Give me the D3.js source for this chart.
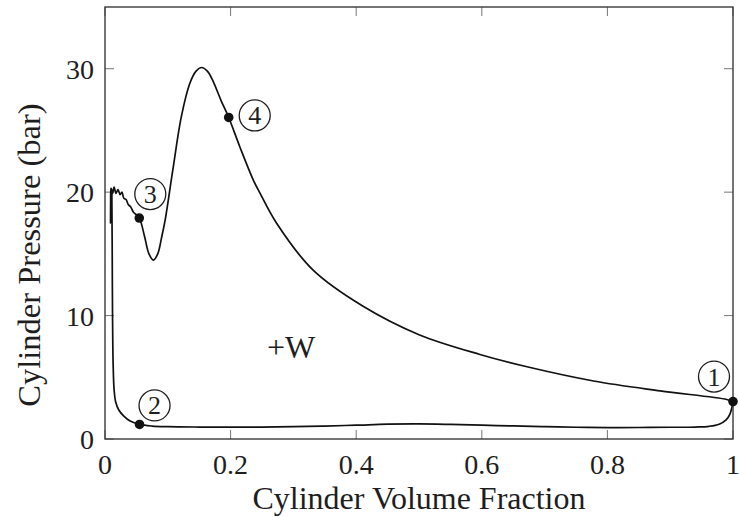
<!DOCTYPE html>
<html>
<head>
<meta charset="utf-8">
<script src="https://cdn.jsdelivr.net/npm/d3@7"></script>
<style>
  html, body { margin: 0; padding: 0; background: #fff; }
  svg { display: block; }
</style>
</head>
<body>
<svg id="chart" width="739" height="517"></svg>
<script>
// Cycle trace: volume fraction and cylinder pressure (bar), in drawing order
const volume = [
  1.0, 0.998, 0.995, 0.989, 0.978, 0.962, 0.94, 0.9, 0.85, 0.8, 0.75, 0.7, 0.65, 0.6,
  0.55, 0.5, 0.45, 0.4, 0.35, 0.3, 0.25, 0.2, 0.15, 0.1, 0.075, 0.055,
  0.04, 0.03, 0.022, 0.017, 0.0145, 0.013, 0.012, 0.0115, 0.011, 0.0105,
  0.0095, 0.009, 0.0088, 0.0092, 0.0098, 0.012, 0.0145, 0.0175, 0.0207, 0.024,
  0.027, 0.030, 0.0335, 0.037, 0.041, 0.045, 0.0546,
  0.063, 0.07, 0.077, 0.084, 0.09, 0.096, 0.108, 0.1215, 0.135, 0.145, 0.154,
  0.163, 0.172, 0.185, 0.197,
  0.2145, 0.236, 0.247, 0.273, 0.331, 0.411, 0.5, 0.597, 0.672, 0.778,
  0.884, 0.99, 1.0
];
const pressure = [
  3.03, 2.5, 2.0, 1.55, 1.2, 1.03, 0.97, 0.95, 0.93, 0.92, 0.95, 1.0, 1.06, 1.12,
  1.18, 1.22, 1.2, 1.12, 1.05, 1.0, 0.97, 0.96, 0.97, 1.0, 1.05, 1.18,
  1.45, 1.85, 2.35, 3.0, 4.0, 6.0, 10, 15, 19, 20.2,
  20.3, 19.2, 17.5, 19.5, 20.3, 19.9, 20.4, 19.9, 20.2, 19.8,
  20.0, 19.5, 19.4, 19.0, 18.8, 18.4, 17.9,
  16.4, 15.0, 14.5, 15.0, 16.3, 17.8, 21.8, 26.1, 28.8, 29.8, 30.1,
  29.8, 29.0, 27.4, 26.05,
  23.7, 21.0, 19.9, 17.5, 13.7, 10.75, 8.45, 6.85, 5.85, 4.7,
  3.9, 3.2, 3.03
];

// State points of the cycle
const stateLabels = ["1", "2", "3", "4"];
const stateVolume = [1.0, 0.055, 0.0546, 0.197];
const statePressure = [3.03, 1.18, 17.9, 26.05];

// Axis ticks
const xTicks = [0, 0.2, 0.4, 0.6, 0.8, 1];
const xTickLabels = ["0", "0.2", "0.4", "0.6", "0.8", "1"];
const yTicks = [0, 10, 20, 30];
const yTickLabels = ["0", "10", "20", "30"];

const xTitle = "Cylinder Volume Fraction";
const yTitle = "Cylinder Pressure (bar)";
const workLabel = "+W";

const serif = "'Liberation Serif', 'Times New Roman', Tinos, 'DejaVu Serif', 'Noto Serif', serif";

const svg = d3.select("#chart")
  .attr("font-family", serif)
  .style("font-family", serif);
const plot = { left: 105, right: 733, top: 7, bottom: 439 };

const x = d3.scaleLinear().domain([0, 1]).range([plot.left, plot.right]);
const y = d3.scaleLinear().domain([0, 35]).range([plot.bottom, plot.top]);

// Inward tick marks on all four sides
const tickLen = 9;
const ticks = svg.append("g").attr("stroke", "#666").attr("stroke-width", 0.9);
xTicks.forEach(v => {
  ticks.append("line").attr("x1", x(v)).attr("x2", x(v))
    .attr("y1", plot.bottom).attr("y2", plot.bottom - tickLen);
  ticks.append("line").attr("x1", x(v)).attr("x2", x(v))
    .attr("y1", plot.top).attr("y2", plot.top + tickLen);
});
yTicks.forEach(v => {
  ticks.append("line").attr("x1", plot.left).attr("x2", plot.left + tickLen)
    .attr("y1", y(v)).attr("y2", y(v));
  ticks.append("line").attr("x1", plot.right).attr("x2", plot.right - tickLen)
    .attr("y1", y(v)).attr("y2", y(v));
});

const ink = "#1e1e1e";

// Tick labels
svg.append("g").selectAll("text").data(xTicks).join("text")
  .attr("x", d => x(d)).attr("y", 474)
  .attr("text-anchor", "middle")
  .attr("font-size", 28).attr("fill", ink)
  .text((d, i) => xTickLabels[i]);

svg.append("g").selectAll("text").data(yTicks).join("text")
  .attr("x", 94).attr("y", d => y(d) + 10)
  .attr("text-anchor", "end")
  .attr("font-size", 28).attr("fill", ink)
  .text((d, i) => yTickLabels[i]);

// Axis titles
svg.append("text")
  .attr("x", 419).attr("y", 509)
  .attr("text-anchor", "middle").attr("font-size", 32).attr("fill", ink)
  .text(xTitle);

svg.append("text")
  .attr("transform", "translate(40, 255) rotate(-90)")
  .attr("text-anchor", "middle").attr("font-size", 32.5).attr("fill", ink)
  .text(yTitle);

// Cycle curve
const pts = volume.map((v, i) => [v, pressure[i]]);
const line = d3.line()
  .x(d => x(d[0])).y(d => y(d[1]))
  .curve(d3.curveCatmullRom.alpha(0.5));

svg.append("path")
  .datum(pts)
  .attr("d", line)
  .attr("fill", "none")
  .attr("stroke", "#111")
  .attr("stroke-width", 1.7)
  .attr("stroke-linejoin", "round");

// Frame
svg.append("rect")
  .attr("x", plot.left).attr("y", plot.top)
  .attr("width", plot.right - plot.left).attr("height", plot.bottom - plot.top)
  .attr("fill", "none").attr("stroke", "#3a3a3a").attr("stroke-width", 1.4);

// State markers
svg.append("g").selectAll("circle").data(stateVolume).join("circle")
  .attr("cx", d => x(d)).attr("cy", (d, i) => y(statePressure[i]))
  .attr("r", 4.8).attr("fill", "#111");

// Circled state numbers, offset from their markers
const labelOffset = [[-19, -25], [15, -19], [11, -24], [26, -2]];
const tags = svg.append("g").selectAll("g").data(stateLabels).join("g")
  .attr("transform", (d, i) =>
    `translate(${x(stateVolume[i]) + labelOffset[i][0]}, ${y(statePressure[i]) + labelOffset[i][1]})`);
tags.append("circle").attr("r", 15.5)
  .attr("fill", "#fff").attr("stroke", ink).attr("stroke-width", 1.3);
tags.append("text")
  .attr("text-anchor", "middle").attr("y", 9)
  .attr("font-size", 26).attr("fill", ink)
  .text(d => d);

// Net work label
svg.append("text")
  .attr("x", 267).attr("y", 358)
  .attr("font-size", 32).attr("fill", ink)
  .text(workLabel);
</script>
</body>
</html>
